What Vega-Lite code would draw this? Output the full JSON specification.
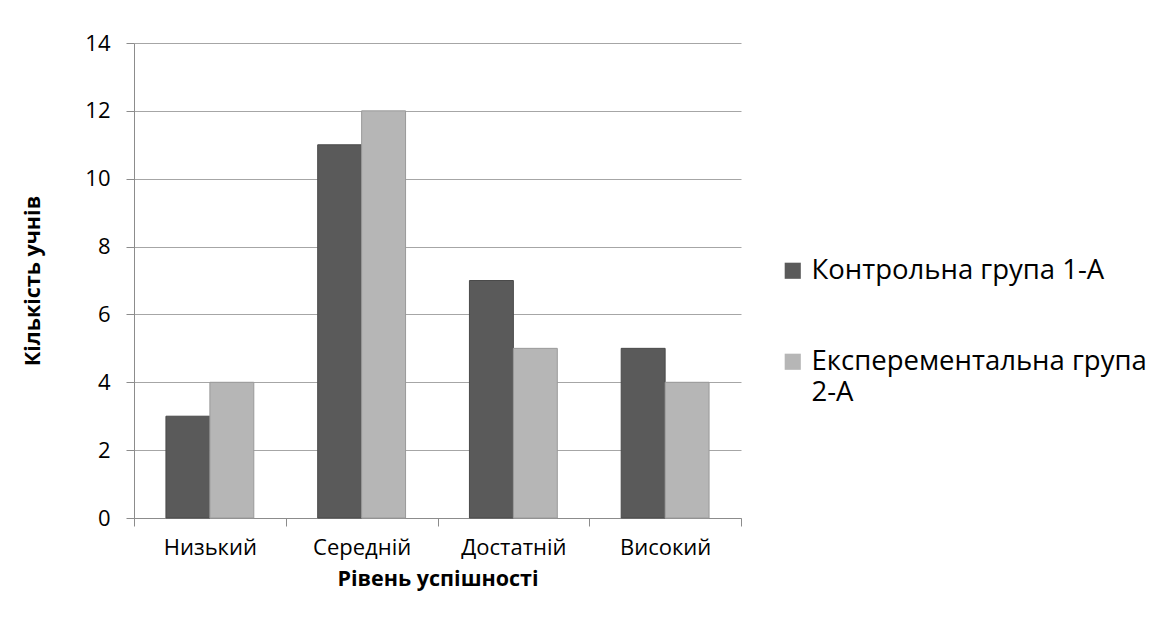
{
  "$schema": "https://vega.github.io/schema/vega-lite/v6.json",
  "autosize": "none",
  "width": 607,
  "height": 475,
  "padding": {"left": 134, "top": 43, "right": 432, "bottom": 117},
  "background": "white",
  "config": {"view": {"stroke": null}, "font": "Open Sans"},
  "data": {
    "values": [
      {"level": "Низький", "group": "Контрольна група 1-А", "count": 3},
      {"level": "Низький", "group": "Експерементальна група 2-А", "count": 4},
      {"level": "Середній", "group": "Контрольна група 1-А", "count": 11},
      {"level": "Середній", "group": "Експерементальна група 2-А", "count": 12},
      {"level": "Достатній", "group": "Контрольна група 1-А", "count": 7},
      {"level": "Достатній", "group": "Експерементальна група 2-А", "count": 5},
      {"level": "Високий", "group": "Контрольна група 1-А", "count": 5},
      {"level": "Високий", "group": "Експерементальна група 2-А", "count": 4}
    ]
  },
  "mark": {"type": "bar", "strokeWidth": 1},
  "encoding": {
    "x": {
      "field": "level",
      "type": "nominal",
      "sort": ["Низький", "Середній", "Достатній", "Високий"],
      "scale": {"paddingInner": 0, "paddingOuter": 0},
      "axis": {
        "title": "Рівень успішності",
        "titleFont": "Open Sans",
        "titleFontSize": 21.5,
        "titleFontWeight": "bold",
        "titleColor": "#000000",
        "titlePadding": 10,
        "labelAngle": 0,
        "labelFontSize": 22,
        "labelColor": "#000000",
        "labelPadding": 11,
        "tickBand": "extent",
        "tickSize": 8,
        "tickColor": "#8c8c8c",
        "domainColor": "#8c8c8c",
        "grid": false
      }
    },
    "xOffset": {
      "field": "group",
      "type": "nominal",
      "sort": ["Контрольна група 1-А", "Експерементальна група 2-А"],
      "scale": {"paddingInner": 0, "paddingOuter": 0.727}
    },
    "y": {
      "field": "count",
      "type": "quantitative",
      "scale": {"domain": [0, 14]},
      "axis": {
        "title": "Кількість учнів",
        "titleFont": "Open Sans",
        "titleFontSize": 21.5,
        "titleFontWeight": "bold",
        "titleColor": "#000000",
        "titlePadding": 40,
        "values": [0, 2, 4, 6, 8, 10, 12, 14],
        "labelFontSize": 22,
        "labelColor": "#000000",
        "labelPadding": 16,
        "tickSize": 8,
        "tickColor": "#8c8c8c",
        "domainColor": "#8c8c8c",
        "gridColor": "#a6a6a6",
        "gridWidth": 1
      }
    },
    "color": {
      "field": "group",
      "type": "nominal",
      "sort": ["Контрольна група 1-А", "Експерементальна група 2-А"],
      "scale": {"range": ["#5a5a5a", "#b6b6b6"]},
      "legend": {
        "title": null,
        "orient": "none",
        "legendX": 645,
        "legendY": 214,
        "symbolType": "square",
        "symbolSize": 260,
        "symbolStrokeWidth": 0,
        "labelFontSize": 27.5,
        "labelColor": "#000000",
        "labelFont": "Open Sans",
        "labelLimit": 500,
        "rowPadding": 62,
        "labelOffset": 5,
        "labelExpr": "datum.label == 'Експерементальна група 2-А' ? ['Експерементальна група', '2-А'] : datum.label",
        "encode": {"labels": {"update": {"lineHeight": {"value": 31}}}}
      }
    },
    "stroke": {
      "field": "group",
      "type": "nominal",
      "sort": ["Контрольна група 1-А", "Експерементальна група 2-А"],
      "scale": {"range": ["#4a4a4a", "#9a9a9a"]},
      "legend": null
    }
  }
}
